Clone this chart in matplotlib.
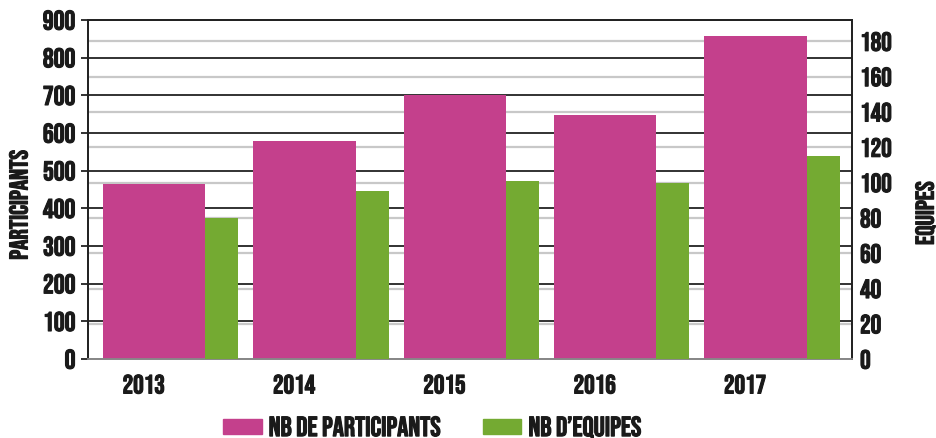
import numpy as np
import matplotlib
matplotlib.use("Agg")
from matplotlib import pyplot as plt
from matplotlib.patches import Patch
from matplotlib import patheffects as pe

plt.rcParams['font.family'] = ['Bebas Neue', 'Oswald', 'IBM Plex Sans Condensed', 'DejaVu Sans']
plt.rcParams['font.weight'] = 'bold'

annees = ["2013", "2014", "2015", "2016", "2017"]
participants = [465, 579, 700, 648, 858]
equipes = [80, 95, 101, 100, 115]

rose = '#C4408C'
vert = '#74AA32'
encre = '#1a1a1a'
gras = [pe.withStroke(linewidth=0.8, foreground=encre)]

x = np.arange(len(annees))

fig = plt.figure(figsize=(9.36, 4.38), dpi=100)
ax1 = fig.add_axes([0.094, 0.180, 0.816, 0.774])
ax2 = ax1.twinx()

ax1.set_ylim(0, 900)
ax2.set_ylim(0, 192)
ax1.set_xlim(-0.55, 4.53)

# barres
ax1.bar(x - 0.45, participants, width=0.68, align='edge', color=rose, zorder=3)
ax2.bar(x + 0.23, equipes, width=0.22, align='edge', color=vert, zorder=3)

# grilles : foncée pour l'axe gauche, claire pour l'axe droit
ax1.set_yticks(np.arange(0, 901, 100))
ax1.set_yticks(np.arange(20, 181, 20) * 900 / 192, minor=True)
ax1.set_axisbelow(True)
ax1.grid(axis='y', which='major', color='#222222', linewidth=1.3)
ax1.grid(axis='y', which='minor', color='#c8c8c8', linewidth=1.6)
ax1.tick_params(axis='y', which='minor', length=0)
ax1.tick_params(axis='y', which='major', length=5, width=1.3, color='#222222',
                labelsize=19.5, pad=4)
ax2.set_yticks(np.arange(0, 181, 20))
ax2.tick_params(axis='y', length=0, labelsize=19, pad=6)

ax1.set_xticks(x - 0.18)
ax1.set_xticklabels(annees, fontsize=19)
ax1.tick_params(axis='x', length=0, pad=11)

for lab in ax1.get_yticklabels() + ax2.get_yticklabels() + ax1.get_xticklabels():
    lab.set_color(encre)
    lab.set_path_effects(gras)

for ax in (ax1, ax2):
    ax.spines['top'].set_color('#222222')
    ax.spines['left'].set_color('#222222')
    ax.spines['right'].set_color('#222222')
    ax.spines['bottom'].set_color('#888888')
    for s in ax.spines.values():
        s.set_linewidth(1.3)

fig.text(18 / 936, 1 - 205 / 438, 'PARTICIPANTS', rotation=90, fontsize=18.5,
         ha='center', va='center', color=encre, path_effects=gras)
fig.text(925 / 936, 1 - 213 / 438, 'EQUIPES', rotation=90, fontsize=18.5,
         ha='center', va='center', color=encre, path_effects=gras)

handles = [Patch(color=rose), Patch(color=vert)]
leg = fig.legend(handles, ['NB DE PARTICIPANTS', 'NB D’EQUIPES'], loc='center',
                 bbox_to_anchor=(432 / 936, 1 - 427 / 438), ncol=2, frameon=False,
                 fontsize=20, handlelength=1.4, handleheight=0.45, handletextpad=0.25,
                 columnspacing=1.5, borderpad=0.2)
for t in leg.get_texts():
    t.set_color(encre)
    t.set_path_effects(gras)

plt.savefig('out.png', dpi=100)
